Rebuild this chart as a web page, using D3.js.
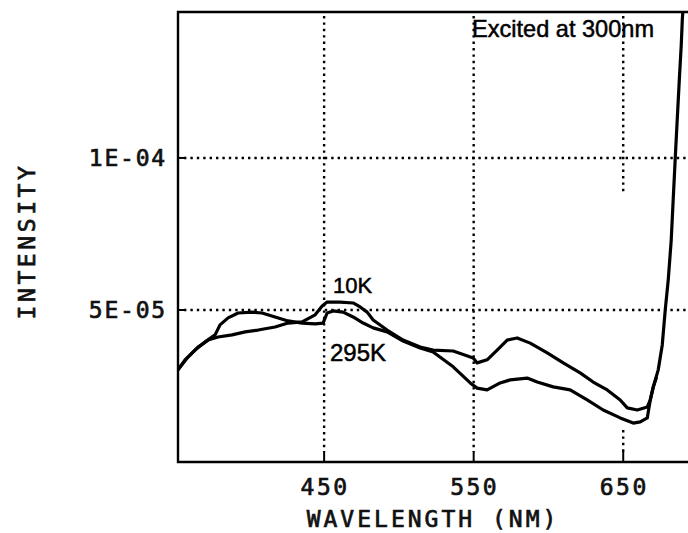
<!DOCTYPE html>
<html>
<head>
<meta charset="utf-8">
<script src="https://cdn.jsdelivr.net/npm/d3@7"></script>
<style>
  html, body { margin: 0; padding: 0; background: #fff; }
  svg { display: block; }
  .tick-label, .axis-title { font-family: "DejaVu Sans Mono", monospace; fill: #111; stroke: #111; stroke-width: 0.7; }
  .note { font-family: "Liberation Sans", Arial, sans-serif; fill: #000; stroke: #000; stroke-width: 0.5; }
</style>
</head>
<body>
<svg id="chart" width="688" height="533"></svg>
<script>
// Emission spectra, wavelength in nm, intensity in units of 1E-05
const wl10K = [352.3, 359.0, 365.7, 372.4, 379.1, 388.5, 397.2, 405.9, 417.2, 425.9, 435.3, 444.0,
  448.7, 452.0, 460.7, 469.4, 474.1, 478.8, 482.8, 492.1, 502.8, 514.2, 522.9, 536.3, 549.7, 552.3,
  559.0, 565.7, 572.4, 579.1, 587.8, 599.2, 609.9, 621.2, 629.9, 639.3, 648.0, 652.7, 659.4, 666.1,
  668.1, 670.1, 673.4, 676.1, 678.1, 680.1, 682.1, 683.4, 684.8, 686.1, 687.5, 688.8, 689.5, 690.8];
const int10K = [3.03, 3.45, 3.78, 4.01, 4.11, 4.18, 4.28, 4.34, 4.44, 4.57, 4.61, 4.84,
  5.13, 5.26, 5.26, 5.23, 5.10, 4.93, 4.67, 4.34, 4.01, 3.78, 3.68, 3.65, 3.42, 3.26,
  3.36, 3.68, 4.01, 4.08, 3.91, 3.59, 3.26, 2.93, 2.63, 2.37, 2.04, 1.78, 1.71, 1.81,
  2.04, 2.47, 3.03, 3.85, 5.00, 5.99, 7.30, 8.62, 10.0, 11.25, 12.57, 13.72, 14.54, 15.53];

const wl295K = [352.3, 357.0, 363.7, 370.4, 377.1, 380.4, 385.8, 392.5, 401.8, 408.5, 417.2, 425.9,
  435.3, 444.0, 449.3, 452.0, 456.0, 462.7, 469.4, 476.1, 482.8, 492.1, 502.8, 514.2, 522.9, 536.3,
  547.7, 552.3, 559.0, 567.7, 574.4, 585.8, 592.5, 603.2, 614.5, 625.9, 636.6, 648.0, 656.7, 661.4,
  666.1, 666.7, 668.1, 670.1, 672.1];
const int295K = [3.03, 3.36, 3.68, 3.95, 4.18, 4.51, 4.74, 4.90, 4.93, 4.90, 4.77, 4.64,
  4.57, 4.54, 4.57, 4.90, 4.97, 4.93, 4.77, 4.57, 4.41, 4.28, 3.98, 3.75, 3.62, 3.13,
  2.60, 2.43, 2.37, 2.60, 2.70, 2.76, 2.63, 2.47, 2.37, 2.04, 1.71, 1.45, 1.28, 1.32,
  1.45, 1.64, 2.04, 2.47, 2.76];

const xTicks = [450, 550, 650];
const xTickLabels = ["450", "550", "650"];
const yTicks = [5, 10];
const yTickLabels = ["5E-05", "1E-04"];
const xDomain = [352.3, 700];
const yDomain = [0, 14.8];
// stretch of the 650 nm grid line that did not print
const grid650Gap = [1.05, 8.9];

const svg = d3.select("#chart");
const plotLeft = 178, plotTop = 12, plotBottom = 462, plotW = 520;

const x = d3.scaleLinear().domain(xDomain).range([plotLeft, plotLeft + plotW]);
const y = d3.scaleLinear().domain(yDomain).range([plotBottom, plotTop]);

svg.append("rect").attr("width", 688).attr("height", 533).attr("fill", "#fff");

svg.append("clipPath").attr("id", "plot-clip")
  .append("rect").attr("x", plotLeft).attr("y", plotTop)
  .attr("width", plotW).attr("height", plotBottom - plotTop);

// dotted grid
const grid = svg.append("g").attr("stroke", "#000").attr("stroke-width", 2.4)
  .attr("stroke-dasharray", "2.4,4").attr("fill", "none");
yTicks.forEach(v => {
  grid.append("line").attr("x1", plotLeft + 6).attr("x2", plotLeft + plotW)
    .attr("y1", y(v)).attr("y2", y(v));
});
xTicks.forEach(v => {
  if (v === 650) {
    grid.append("line").attr("x1", x(v)).attr("x2", x(v))
      .attr("y1", plotTop + 4).attr("y2", y(grid650Gap[1]));
    grid.append("line").attr("x1", x(v)).attr("x2", x(v))
      .attr("y1", y(grid650Gap[0])).attr("y2", plotBottom - 10);
  } else {
    grid.append("line").attr("x1", x(v)).attr("x2", x(v))
      .attr("y1", plotTop + 4).attr("y2", plotBottom - 10);
  }
});

// inward ticks
const ticks = svg.append("g").attr("stroke", "#000").attr("stroke-width", 2);
xTicks.forEach(v => {
  ticks.append("line").attr("x1", x(v)).attr("x2", x(v))
    .attr("y1", plotBottom - 11).attr("y2", plotBottom);
});
yTicks.forEach(v => {
  ticks.append("line").attr("x1", plotLeft).attr("x2", plotLeft + 6)
    .attr("y1", y(v)).attr("y2", y(v));
});

// frame (right side runs off the page)
svg.append("path")
  .attr("d", `M${plotLeft + plotW},${plotTop}H${plotLeft}V${plotBottom}H${plotLeft + plotW}`)
  .attr("fill", "none").attr("stroke", "#000").attr("stroke-width", 2.4);

// spectra
const line = d3.line().x(d => x(d[0])).y(d => y(d[1]));
const plot = svg.append("g").attr("clip-path", "url(#plot-clip)");
[[wl10K, int10K], [wl295K, int295K]].forEach(([w, v]) => {
  plot.append("path")
    .datum(w.map((d, i) => [d, v[i]]))
    .attr("d", line)
    .attr("fill", "none")
    .attr("stroke", "#000")
    .attr("stroke-width", 3.2)
    .attr("stroke-linejoin", "round")
    .attr("stroke-linecap", "round");
});

// tick labels
xTicks.forEach((v, i) => {
  svg.append("text").attr("class", "tick-label")
    .attr("x", x(v) + 1).attr("y", 495)
    .attr("text-anchor", "middle")
    .attr("font-size", 23).attr("letter-spacing", 2.5)
    .text(xTickLabels[i]);
});
yTicks.forEach((v, i) => {
  svg.append("text").attr("class", "tick-label")
    .attr("x", 167).attr("y", y(v) + 8.5)
    .attr("text-anchor", "end")
    .attr("font-size", 23).attr("letter-spacing", 1.8)
    .text(yTickLabels[i]);
});

// axis titles
svg.append("text").attr("class", "axis-title")
  .attr("x", 433).attr("y", 527)
  .attr("text-anchor", "middle")
  .attr("font-size", 23).attr("letter-spacing", 3)
  .text("WAVELENGTH (NM)");
svg.append("text").attr("class", "axis-title")
  .attr("transform", "translate(35,241) rotate(-90)")
  .attr("text-anchor", "middle")
  .attr("font-size", 23).attr("letter-spacing", 3.6)
  .text("INTENSITY");

// annotations
svg.append("text").attr("class", "note")
  .attr("x", 472).attr("y", 37).attr("font-size", 24)
  .attr("textLength", 182).attr("lengthAdjust", "spacingAndGlyphs")
  .text("Excited at 300nm");
svg.append("text").attr("class", "note")
  .attr("x", 333).attr("y", 293).attr("font-size", 22)
  .text("10K");
svg.append("text").attr("class", "note")
  .attr("x", 330).attr("y", 361).attr("font-size", 24)
  .text("295K");
</script>
</body>
</html>
